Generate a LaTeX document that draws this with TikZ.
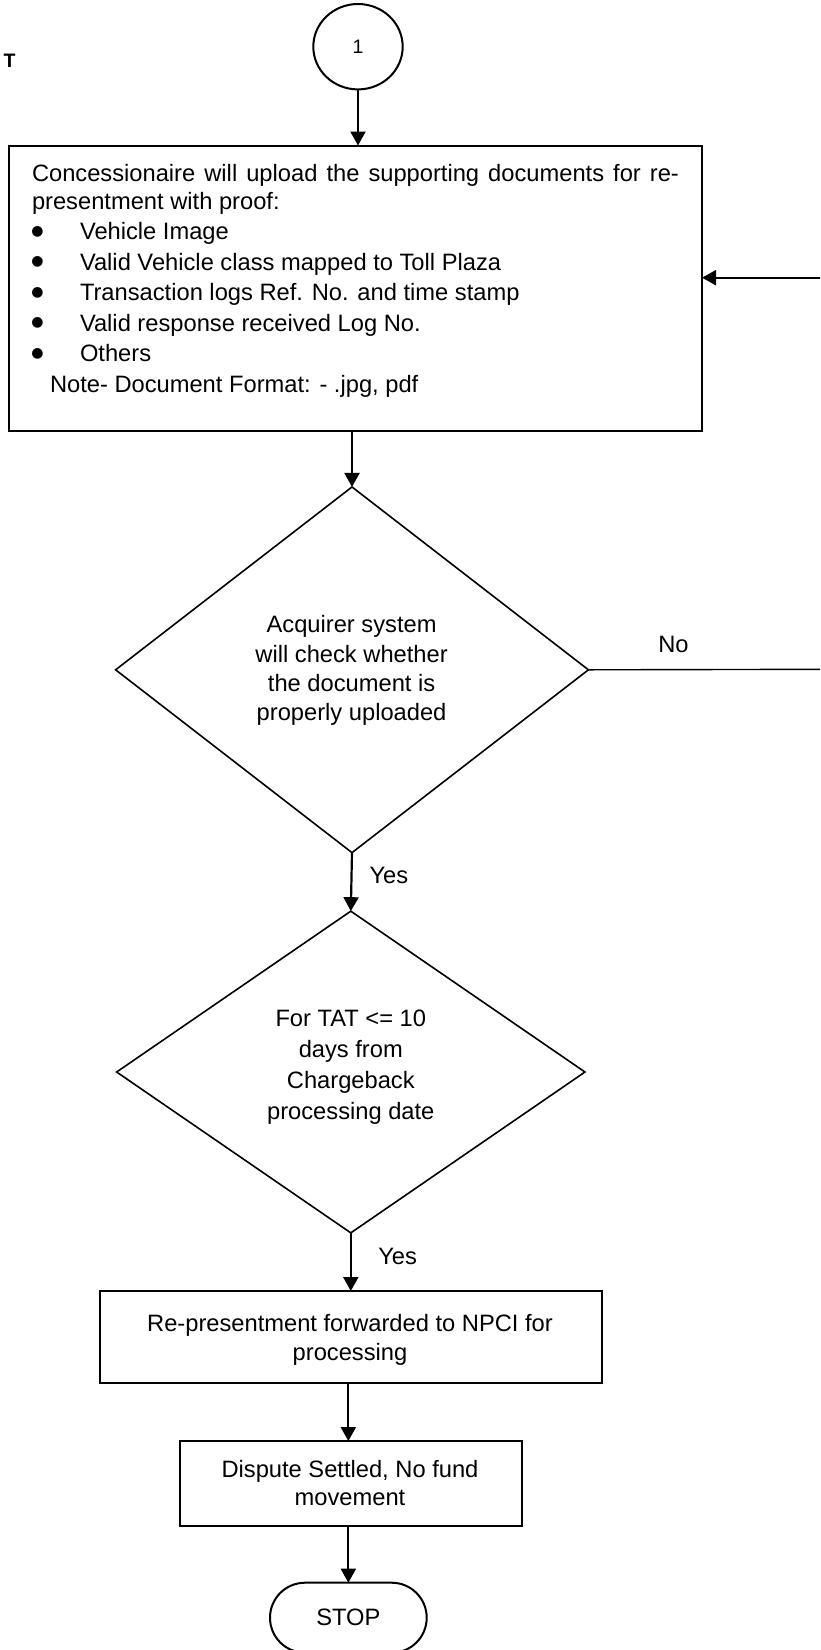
\documentclass[tikz,border=0pt]{standalone}
\usepackage{fontspec}
\setmainfont{Liberation Sans}
\newfontfamily\symbolfont{DejaVu Sans}
\usetikzlibrary{arrows.meta,shapes.geometric}
% bullet of the upload checklist, followed by the item indent
\newcommand\listbullet{\makebox[48pt][l]{\hspace{-0.6pt}\raisebox{4.3pt}{\fontsize{14}{14}\symbolfont ●}}}
\begin{document}
\begin{tikzpicture}[x=1pt,y=-1pt,
  every node/.style={inner sep=0pt, outer sep=0pt},
  txt/.style={font=\fontsize{23.7}{28.6}\selectfont},
  box/.style={draw, line width=2pt, rectangle},
  decision/.style={draw, line width=1.6pt, diamond},
  arr/.style={-{Triangle[length=14pt,width=15pt]}, line width=2.2pt},
  lbl/.style={font=\fontsize{23.7}{23.7}\selectfont}
]
\useasboundingbox (0,0) rectangle (820,1650);
\fill[white] (0,0) rectangle (820,1650);
\clip (0,0) rectangle (820,1650);

% page marker
\node[font=\fontsize{19.5}{19.5}\selectfont\bfseries, anchor=base west] (tmark) at (3.5,67) {T};

% connector circle
\node[ellipse, draw, line width=2pt, minimum width=89.4pt, minimum height=85.4pt,
      font=\fontsize{19.5}{19.5}\selectfont] (c1) at (358,46.7) {1};

% upload step
\node[box, minimum width=692.7pt, minimum height=285.5pt] (box1) at (355.65,288.25) {};
\node[txt, font=\fontsize{23.7}{30.5}\selectfont, anchor=north west, align=left] (box1txt) at (32,160.15)
  {\strut\makebox[647pt][s]{Concessionaire will upload the supporting documents for re-}\\[-3pt]
   presentment with proof:\\
   \listbullet Vehicle Image\\
   \listbullet Valid Vehicle class mapped to Toll Plaza\\
   \listbullet Transaction logs Ref. No. and time stamp\\
   \listbullet Valid response received Log No.\\
   \listbullet Others\\
   \hspace*{18pt}Note- Document Format: - .jpg, pdf};

% first decision
\node[decision, minimum width=472.8pt, minimum height=365.7pt] (d1) at (352,669.8) {};
\node[txt, font=\fontsize{23.7}{29.3}\selectfont, anchor=north, align=center] (d1txt) at (351.6,612.2)
  {\strut Acquirer system\\ will check whether\\ the document is\\ properly uploaded};

% second decision
\node[decision, minimum width=468.3pt, minimum height=321.7pt] (d2) at (350.8,1072) {};
\node[txt, font=\fontsize{23.7}{31.2}\selectfont, anchor=north, align=center] (d2txt) at (350.8,1004.2)
  {\strut For TAT <= 10\\ days from\\ Chargeback\\ processing date};

% forwarding step
\node[box, minimum width=502pt, minimum height=92pt] (box2) at (351,1337) {};
\node[txt, font=\fontsize{23.7}{28.6}\selectfont, anchor=north, align=center] (box2txt) at (350,1311.4)
  {\strut Re-presentment forwarded to NPCI for\\ processing};

% settlement step
\node[box, minimum width=341.7pt, minimum height=84.7pt] (box3) at (350.85,1483.35) {};
\node[txt, font=\fontsize{23.7}{27.7}\selectfont, anchor=north, align=center] (box3txt) at (350,1457.9)
  {\strut Dispute Settled, No fund\\ movement};

% terminator
\node[draw, line width=2pt, rectangle, rounded corners=35pt, minimum width=156.7pt, minimum height=70pt,
      font=\fontsize{23.7}{23.7}\selectfont] (stopnode) at (348.35,1617.7) {STOP};

% return path for a missing upload
\coordinate (noturn) at (826,669.3);
\coordinate (backin) at (826,277.7);

% connectors
\draw[arr] (c1.south) -- (c1.south |- box1.north);
\draw[arr] (box1.south -| d1.north) -- (d1.north);
\draw[arr] (d1.south) -- node[lbl, pos=.394, anchor=west, xshift=18pt] (yes1) {Yes} (d2.north);
\draw[arr] (d2.south) -- node[lbl, pos=.399, anchor=west, xshift=27.5pt] (yes2) {Yes} (d2.south |- box2.north);
\draw[arr] (box2.south -| stopnode.north) -- (box3.north -| stopnode.north);
\draw[arr] (box3.south -| stopnode.north) -- (stopnode.north);
\draw[line width=1.4pt] (d1.east) -- node[lbl, pos=.358, anchor=base, yshift=17.3pt] (nolbl) {No} (noturn) -- (backin);
\draw[arr] (backin) -- (box1.east |- backin);
\end{tikzpicture}
\end{document}
